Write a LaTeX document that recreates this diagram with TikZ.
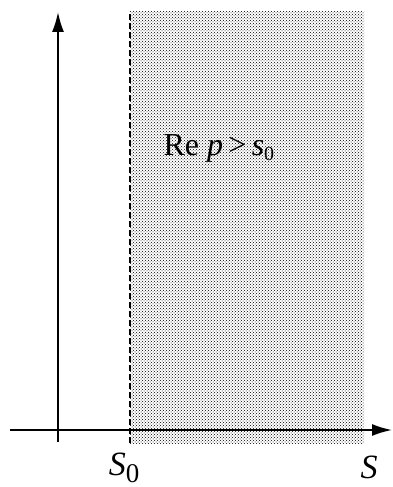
\documentclass[tikz,border=0pt]{standalone}
\usepackage{fontspec}
\setmainfont{Liberation Serif}
\usetikzlibrary{arrows.meta,patterns}
\tikzset{
  axis/.style={line width=1.8pt, -{Latex[length=20pt,width=12pt]}},
  bigfont/.style={font=\fontsize{32}{36}\selectfont},
}
\begin{document}
\begin{tikzpicture}[x=1pt,y=-1pt]
\useasboundingbox (0,0) rectangle (392,487);
% half plane
\fill[pattern=crosshatch dots, pattern color=black] (130,12) rectangle (364,443);
\coordinate (top) at (130,12);
\coordinate (bot) at (130,443);
\draw[line width=1.4pt, dash pattern=on 6pt off 3pt] (bot) -- (top);
% axes
\coordinate (ys) at (58,442);
\coordinate (ye) at (58,12);
\coordinate (xs) at (10,430);
\coordinate (xe) at (392,430);
\draw[axis] (ys) -- (ye);
\draw[axis] (xs) -- (xe);
% labels
\node[bigfont, anchor=west] (cond) at (160,148) {Re \textit{p}\,>\,\textit{s}\raisebox{-0.4ex}{\fontsize{20}{20}\selectfont 0}};
\node[font=\fontsize{34}{38}\selectfont] (s0) at (124,468) {\textit{S}\raisebox{-0.45ex}{\fontsize{27}{27}\selectfont 0}};
\node[font=\fontsize{34}{38}\selectfont] (s) at (369,467) {\textit{S}};
\end{tikzpicture}
\end{document}
